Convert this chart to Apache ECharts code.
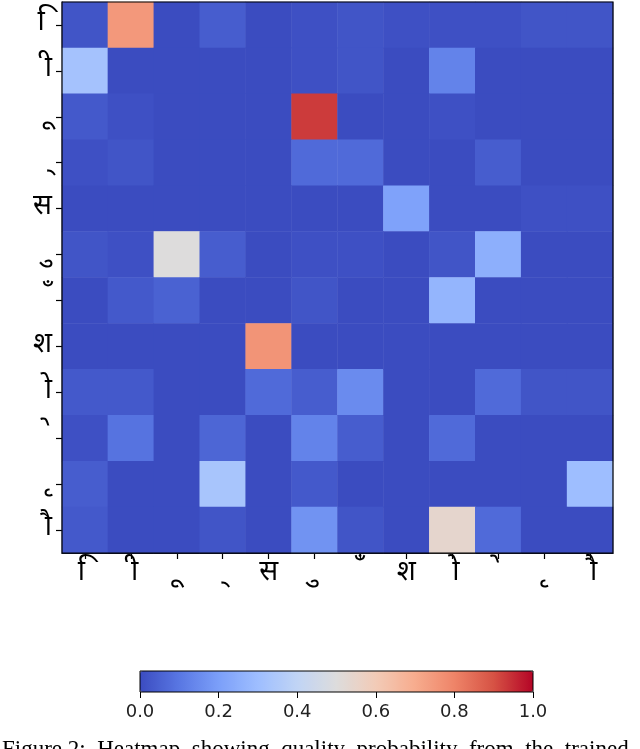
<!DOCTYPE html>
<html>
<head>
<meta charset="utf-8">
<script src="https://cdn.jsdelivr.net/npm/echarts@6/dist/echarts.min.js"></script>
<style>
    html, body {
        margin: 0;
        padding: 0;
        background: #fff;
    }

    #main {
        width: 640px;
        height: 749px;
    }
</style>
</head>
<body>
<div id="main"></div>
<script>
    // 字符标签（行、列相同），前面加不换行空格作基字，避免出现虚线圆
    var labels = ['\u00a0ि', '\u00a0ी', '\u00a0ू', '\u00a0्', 'स', '\u00a0ु', '\u00a0ँ', 'श', '\u00a0ो', '\u00a0े', '\u00a0ृ', '\u00a0ौ'];

    // 每行的概率值，从上到下
    var row0 = [0.02, 0.75, 0.00, 0.04, 0.00, 0.01, 0.02, 0.01, 0.01, 0.01, 0.02, 0.02];
    var row1 = [0.32, 0.00, 0.00, 0.00, 0.00, 0.01, 0.02, 0.00, 0.13, 0.00, 0.00, 0.00];
    var row2 = [0.03, 0.01, 0.00, 0.00, 0.00, 0.93, 0.00, 0.00, 0.01, 0.00, 0.00, 0.00];
    var row3 = [0.01, 0.02, 0.00, 0.00, 0.00, 0.07, 0.07, 0.00, 0.00, 0.04, 0.00, 0.00];
    var row4 = [0.00, 0.00, 0.00, 0.00, 0.00, 0.00, 0.00, 0.21, 0.00, 0.00, 0.01, 0.01];
    var row5 = [0.02, 0.01, 0.50, 0.04, 0.00, 0.01, 0.01, 0.00, 0.02, 0.25, 0.00, 0.00];
    var row6 = [0.00, 0.03, 0.05, 0.00, 0.00, 0.02, 0.00, 0.00, 0.27, 0.00, 0.00, 0.00];
    var row7 = [0.00, 0.00, 0.00, 0.00, 0.76, 0.00, 0.00, 0.00, 0.00, 0.00, 0.00, 0.00];
    var row8 = [0.03, 0.03, 0.00, 0.00, 0.07, 0.04, 0.15, 0.00, 0.00, 0.07, 0.02, 0.02];
    var row9 = [0.01, 0.09, 0.00, 0.06, 0.00, 0.13, 0.04, 0.00, 0.07, 0.00, 0.00, 0.00];
    var row10 = [0.04, 0.00, 0.00, 0.33, 0.00, 0.03, 0.00, 0.00, 0.00, 0.00, 0.00, 0.30];
    var row11 = [0.03, 0.00, 0.00, 0.02, 0.00, 0.17, 0.02, 0.00, 0.54, 0.07, 0.00, 0.00];

    var rows = [row0, row1, row2, row3, row4, row5, row6, row7, row8, row9, row10, row11];

    // 色条刻度
    var barTicks = [0, 0.2, 0.4, 0.6, 0.8, 1.0];

    var coolwarm = ['#3b4cc0', '#5977e3', '#7b9ff9', '#9ebeff', '#c0d4f5', '#dddcdc',
        '#f2cbb7', '#f7ac8e', '#ee8468', '#d65244', '#b40426'];

    var data = [];
    for (var r = 0; r < rows.length; r++) {
        for (var c = 0; c < rows[r].length; c++) {
            data.push([c, r, rows[r][c]]);
        }
    }

    var labelFont = '"Noto Sans Devanagari", "Noto Sans", sans-serif';

    var myChart = echarts.init(document.getElementById('main'));
    var option = {
        animation: false,
        grid: [
            {
                left: 62, top: 2, width: 551, height: 551,
                show: true, borderColor: '#000', borderWidth: 1.2, z: 10
            },
            {
                left: 140, top: 671, width: 393, height: 21,
                show: true, borderColor: '#000', borderWidth: 1, z: 10
            }
        ],
        xAxis: [
            {
                type: 'category',
                gridIndex: 0,
                data: labels,
                axisLine: {show: true, lineStyle: {color: '#000', width: 1.2}},
                axisTick: {show: true, alignWithLabel: true, length: 6, lineStyle: {color: '#000', width: 1.2}},
                axisLabel: {color: '#000', fontSize: 28, margin: 8, fontFamily: labelFont},
                splitLine: {show: false}
            },
            {
                type: 'value',
                gridIndex: 1,
                min: 0,
                max: 1,
                interval: 0.2,
                axisLine: {show: false},
                axisTick: {show: true, length: 6, lineStyle: {color: '#000'}},
                axisLabel: {
                    color: '#222', fontSize: 18, margin: 11,
                    fontFamily: '"DejaVu Sans", sans-serif',
                    formatter: function (v) { return v.toFixed(1); },
                    customValues: barTicks
                },
                splitLine: {show: false}
            }
        ],
        yAxis: [
            {
                type: 'category',
                gridIndex: 0,
                inverse: true,
                data: labels,
                axisLine: {show: true, lineStyle: {color: '#000', width: 1.2}},
                axisTick: {show: true, alignWithLabel: true, length: 6, lineStyle: {color: '#000', width: 1.2}},
                axisLabel: {color: '#000', fontSize: 28, margin: 10, fontFamily: labelFont},
                splitLine: {show: false}
            },
            {
                type: 'value',
                gridIndex: 1,
                show: false
            }
        ],
        visualMap: {
            type: 'continuous',
            min: 0,
            max: 1,
            seriesIndex: 0,
            orient: 'horizontal',
            left: 125,
            top: 656,
            itemWidth: 21,
            itemHeight: 393,
            calculable: false,
            showLabel: false,
            text: null,
            hoverLink: false,
            z: 2,
            inRange: {color: coolwarm}
        },
        graphic: [
            {
                type: 'text',
                left: 2,
                top: 738,
                style: {
                    text: 'Figure 2:  Heatmap  showing  quality  probability  from  the  trained',
                    font: '23px "Liberation Serif", serif',
                    fill: '#000'
                }
            }
        ],
        series: [
            {
                type: 'heatmap',
                xAxisIndex: 0,
                yAxisIndex: 0,
                data: data,
                label: {show: false}
            }
        ]
    };
    myChart.setOption(option);
</script>
</body>
</html>
